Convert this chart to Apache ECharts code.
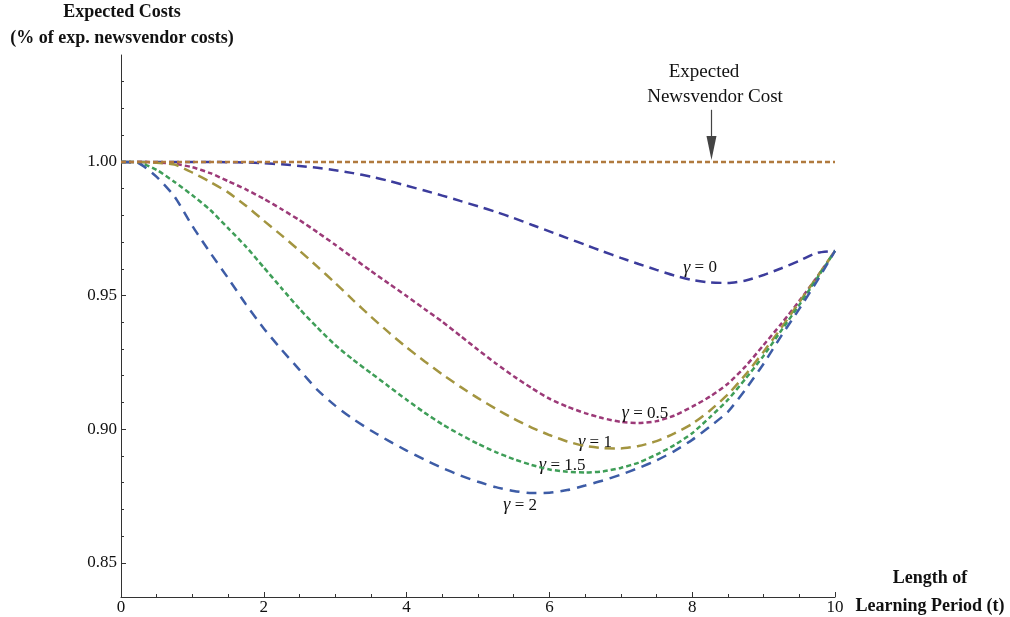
<!DOCTYPE html>
<html>
<head>
<meta charset="utf-8">
<script src="https://cdn.jsdelivr.net/npm/echarts@6/dist/echarts.min.js"></script>
<style>
  html, body { margin: 0; padding: 0; background: #fff; }
  #container { width: 1010px; height: 617px; }
</style>
</head>
<body>
<div id="container"></div>
<script>
// learning period length (t), step 0.25
var tValues = [0, 0.25, 0.5, 0.75, 1, 1.25, 1.5, 1.75, 2, 2.25, 2.5, 2.75, 3, 3.25, 3.5, 3.75, 4, 4.25, 4.5, 4.75,
               5, 5.25, 5.5, 5.75, 6, 6.25, 6.5, 6.75, 7, 7.25, 7.5, 7.75, 8, 8.25, 8.5, 8.75, 9, 9.25, 9.5, 9.75, 10];

// expected costs as share of newsvendor costs, one list per gamma
var gamma0  = [1, 1, 1, 1, 1, 1, 0.9999, 0.9998, 0.9995, 0.9991, 0.9985, 0.9978, 0.9969, 0.9958, 0.9945, 0.9929, 0.9911, 0.9893, 0.9874, 0.9854,
               0.9834, 0.9813, 0.979, 0.9765, 0.974, 0.9715, 0.969, 0.9665, 0.9641, 0.9618, 0.9596, 0.9575, 0.9558, 0.9549, 0.9547, 0.9556, 0.9577, 0.9602, 0.963, 0.966, 0.9667];
var gamma05 = [1, 1, 0.9998, 0.9993, 0.998, 0.9958, 0.9928, 0.9897, 0.9862, 0.9823, 0.9782, 0.9737, 0.969, 0.9641, 0.9592, 0.9545, 0.9498, 0.945, 0.9402, 0.935,
               0.9297, 0.9246, 0.9198, 0.9154, 0.9114, 0.9084, 0.906, 0.9041, 0.9027, 0.9023, 0.903, 0.9051, 0.9084, 0.9122, 0.917, 0.9236, 0.9315, 0.9395, 0.948, 0.957, 0.9667];
var gamma1  = [1, 1, 0.9997, 0.999, 0.996, 0.9925, 0.9886, 0.9836, 0.978, 0.9725, 0.9668, 0.9608, 0.9547, 0.9483, 0.9421, 0.9362, 0.9306, 0.9254, 0.9205, 0.9159,
               0.9116, 0.9076, 0.9039, 0.9006, 0.8978, 0.8954, 0.8937, 0.8929, 0.8928, 0.8937, 0.8955, 0.8984, 0.902, 0.907, 0.913, 0.9205, 0.929, 0.938, 0.9475, 0.957, 0.9667];
var gamma15 = [1, 0.9998, 0.997, 0.9925, 0.9875, 0.982, 0.9752, 0.9683, 0.9605, 0.9527, 0.945, 0.938, 0.9315, 0.926, 0.921, 0.916, 0.911, 0.9062, 0.9018, 0.898,
               0.8945, 0.8914, 0.8888, 0.8866, 0.8849, 0.8841, 0.8838, 0.8842, 0.8855, 0.8875, 0.8905, 0.894, 0.8985, 0.9045, 0.911, 0.919, 0.9275, 0.937, 0.9465, 0.9565, 0.9667];
var gamma2  = [1, 0.9995, 0.9944, 0.987, 0.976, 0.966, 0.9565, 0.9467, 0.9377, 0.9297, 0.9222, 0.9147, 0.9088, 0.9038, 0.8995, 0.8956, 0.892, 0.8886, 0.8855, 0.8827,
               0.8803, 0.8783, 0.8769, 0.8761, 0.8762, 0.8772, 0.8789, 0.8808, 0.883, 0.8855, 0.8883, 0.8918, 0.896, 0.901, 0.9065, 0.915, 0.9245, 0.935, 0.945, 0.9555, 0.9667];
var newsvendorT = [0, 10];
var newsvendor  = [1, 1];

// curve labels: text and where they sit (data units)
var labelText = ['0', '0.5', '1', '1.5', '2'];
var labelT    = [8.11, 7.34, 6.64, 6.18, 5.59];
var labelV    = [0.9603, 0.9060, 0.8951, 0.8865, 0.8715];

// arrow to the newsvendor line
var arrowT = 8.27;
var arrowFrom = 1.0195;
var arrowTo = 1.0052;

// ticks
var yMajor = [0.85, 0.90, 0.95, 1.00];
var yMinor = [0.86, 0.87, 0.88, 0.89, 0.91, 0.92, 0.93, 0.94, 0.96, 0.97, 0.98, 0.99, 1.01, 1.02, 1.03];

var serif = '"Liberation Serif", "DejaVu Serif", serif';

function pairs(xs, ys) {
    return xs.map(function (x, i) { return [x, ys[i]]; });
}

function gammaLabel(i) {
    return {
        coord: [labelT[i], labelV[i]],
        value: labelText[i]
    };
}

function curve(name, values, color, dash, idx) {
    return {
        name: name,
        type: 'line',
        data: pairs(tValues, values),
        smooth: 0.2,
        showSymbol: false,
        symbol: 'none',
        lineStyle: { color: color, width: 2.5, type: dash, cap: 'butt' },
        z: 3 + idx,
        markPoint: {
            silent: true,
            symbol: 'circle',
            symbolSize: 1,
            itemStyle: { color: 'rgba(0,0,0,0)' },
            label: {
                show: true,
                position: 'inside',
                formatter: function (p) { return '{g|γ} = ' + p.value; },
                fontFamily: serif,
                fontSize: 17,
                color: '#111',
                rich: { g: { fontFamily: serif, fontStyle: 'italic', fontSize: 18, color: '#111' } }
            },
            data: [gammaLabel(idx)]
        }
    };
}

var dom = document.getElementById('container');
var myChart = echarts.init(dom, null, { renderer: 'canvas' });

var option = {
    animation: false,
    backgroundColor: '#fff',
    grid: { left: 121, right: 175, top: 55, bottom: 20 },
    xAxis: {
        type: 'value',
        min: 0,
        max: 10,
        interval: 2,
        axisLine: { lineStyle: { color: '#333', width: 1 } },
        axisTick: { inside: true, length: 5, lineStyle: { color: '#333' } },
        minorTick: { show: true, splitNumber: 4, length: 3, lineStyle: { color: '#333' } },
        splitLine: { show: false },
        axisLabel: { fontFamily: serif, fontSize: 17, color: '#111', margin: 2 }
    },
    yAxis: [
        {
            type: 'value',
            min: 0.8372,
            max: 1.04,
            axisLine: { show: true, lineStyle: { color: '#333', width: 1 } },
            axisTick: { show: true, inside: true, length: 5, customValues: yMajor, lineStyle: { color: '#333' } },
            splitLine: { show: false },
            axisLabel: {
                customValues: yMajor,
                formatter: function (v) { return v.toFixed(2); },
                fontFamily: serif, fontSize: 17, color: '#111', margin: 4
            }
        },
        {
            type: 'value',
            position: 'left',
            min: 0.8372,
            max: 1.04,
            axisLine: { show: false },
            axisTick: { show: true, inside: true, length: 3, customValues: yMinor, lineStyle: { color: '#333' } },
            splitLine: { show: false },
            axisLabel: { show: false }
        }
    ],
    series: [
        {
            name: 'newsvendor',
            type: 'line',
            data: pairs(newsvendorT, newsvendor),
            showSymbol: false,
            symbol: 'none',
            lineStyle: { color: '#b07a3e', width: 2.5, type: [5, 3] },
            z: 9,
            markLine: {
                silent: true,
                symbol: ['none', 'triangle'],
                symbolSize: [10, 24],
                label: { show: false },
                lineStyle: { color: '#444', width: 1.2, type: 'solid' },
                itemStyle: { color: '#000' },
                data: [[
                    { coord: [arrowT, arrowFrom] },
                    { coord: [arrowT, arrowTo] }
                ]]
            }
        },
        curve('γ = 0', gamma0, '#3c3c9c', [10, 6], 0),
        curve('γ = 0.5', gamma05, '#9c3a78', [5, 3], 1),
        curve('γ = 1', gamma1, '#a39540', [10, 6], 2),
        curve('γ = 1.5', gamma15, '#3f9e58', [5, 3], 3),
        curve('γ = 2', gamma2, '#3d5ca6', [10, 7], 4)
    ],
    graphic: [
        {
            type: 'text',
            position: [122, -1],
            style: {
                text: 'Expected Costs\n(% of exp. newsvendor costs)',
                textAlign: 'center',
                font: 'bold 18px ' + serif, lineHeight: 26, fill: '#111'
            }
        },
        {
            type: 'text',
            position: [930, 564],
            style: {
                text: 'Length of\nLearning Period (t)',
                textAlign: 'center',
                font: 'bold 18px ' + serif, lineHeight: 28, fill: '#111'
            }
        },
        {
            type: 'text',
            position: [704, 72],
            style: {
                text: 'Expected',
                textAlign: 'center', textVerticalAlign: 'middle',
                font: '19px ' + serif, fill: '#111'
            }
        },
        {
            type: 'text',
            position: [715, 97],
            style: {
                text: 'Newsvendor Cost',
                textAlign: 'center', textVerticalAlign: 'middle',
                font: '19px ' + serif, fill: '#111'
            }
        }
    ]
};

myChart.setOption(option, true);
</script>
</body>
</html>
